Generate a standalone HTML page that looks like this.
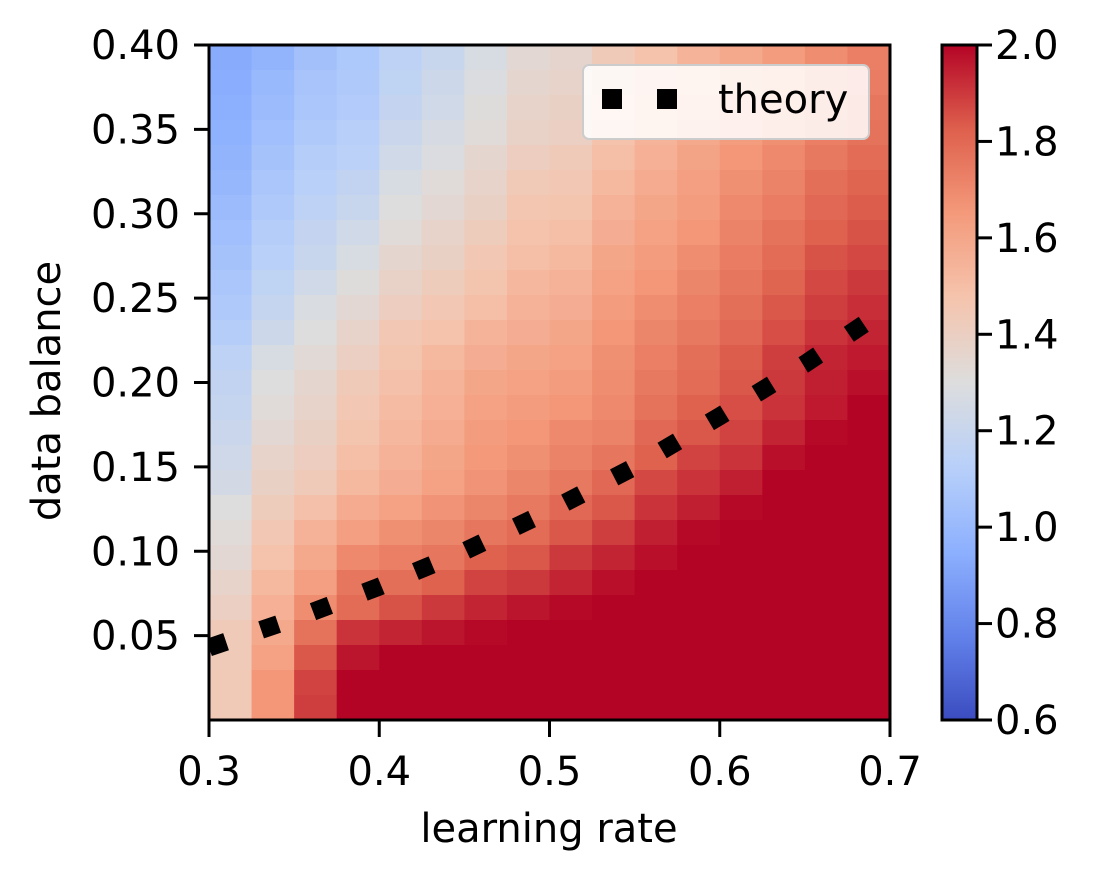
<!DOCTYPE html>
<html><head><meta charset="utf-8">
<style>
html,body{margin:0;padding:0;background:#fff;}
svg{display:block;font-family:"DejaVu Sans","Liberation Sans",sans-serif;}
</style></head>
<body>
<svg id="chart" width="1101" height="880" viewBox="0 0 1101 880" xmlns="http://www.w3.org/2000/svg">
<defs>
<linearGradient id="cw" x1="0" y1="1" x2="0" y2="0">
<stop offset="0" stop-color="rgb(59,76,192)"/>
<stop offset="0.125" stop-color="rgb(98,130,234)"/>
<stop offset="0.25" stop-color="rgb(141,176,254)"/>
<stop offset="0.375" stop-color="rgb(184,208,249)"/>
<stop offset="0.5" stop-color="rgb(221,221,221)"/>
<stop offset="0.625" stop-color="rgb(245,196,173)"/>
<stop offset="0.75" stop-color="rgb(244,154,123)"/>
<stop offset="0.875" stop-color="rgb(222,96,77)"/>
<stop offset="1" stop-color="rgb(180,4,38)"/>
</linearGradient>
<clipPath id="plotclip"><rect x="209" y="45" width="681" height="675"/></clipPath>
</defs>
<g id="cells"></g>
<g id="theory" clip-path="url(#plotclip)"></g>
<rect x="209" y="45" width="681" height="675" fill="none" stroke="#000" stroke-width="3"/>
<g id="xticks"></g>
<g id="yticks"></g>
<text x="549" y="842" font-size="40" text-anchor="middle">learning rate</text>
<text transform="translate(60,391) rotate(-90)" font-size="40" text-anchor="middle">data balance</text>
<g>
<rect x="583" y="65" width="286" height="74" rx="6" fill="#fff" fill-opacity="0.85" stroke="#ccc" stroke-width="2"/>
<rect x="602" y="89" width="20" height="20" fill="#000"/>
<rect x="657" y="89" width="20" height="20" fill="#000"/>
<text x="718" y="113" font-size="40">theory</text>
</g>
<rect x="942" y="45" width="35" height="675" fill="url(#cw)" stroke="#000" stroke-width="3"/>
<g id="cbticks"></g>
</svg>
<script>
const lrEdges = [0.3,0.325,0.35,0.375,0.4,0.425,0.45,0.475,0.5,0.525,0.55,0.575,0.6,0.625,0.65,0.675,0.7];
const balanceRows = 27;
const lossByColumn = [
[.93,.94,.95,.96,.97,.99,1.01,1.03,1.05,1.07,1.09,1.11,1.15,1.17,1.19,1.21,1.23,1.25,1.30,1.32,1.34,1.37,1.40,1.43,1.43,1.44,1.44],
[.97,1.00,1.01,1.03,1.05,1.07,1.09,1.11,1.13,1.16,1.19,1.22,1.27,1.30,1.32,1.34,1.37,1.39,1.42,1.45,1.48,1.52,1.56,1.59,1.62,1.66,1.66],
[1.04,1.06,1.07,1.09,1.11,1.13,1.15,1.18,1.20,1.24,1.28,1.30,1.33,1.35,1.37,1.39,1.41,1.43,1.49,1.55,1.59,1.63,1.69,1.77,1.84,1.88,1.89],
[1.08,1.09,1.10,1.12,1.14,1.17,1.20,1.24,1.27,1.31,1.34,1.37,1.40,1.43,1.45,1.47,1.50,1.52,1.58,1.63,1.70,1.76,1.79,1.91,1.97,2,2],
[1.15,1.16,1.18,1.21,1.24,1.27,1.30,1.32,1.35,1.38,1.41,1.45,1.47,1.49,1.51,1.53,1.55,1.57,1.62,1.68,1.73,1.78,1.85,1.94,2,2,2],
[1.20,1.22,1.24,1.26,1.29,1.32,1.34,1.37,1.39,1.42,1.45,1.48,1.52,1.54,1.56,1.58,1.60,1.62,1.67,1.71,1.76,1.82,1.90,1.97,2,2,2],
[1.27,1.29,1.31,1.32,1.35,1.37,1.39,1.42,1.45,1.47,1.50,1.54,1.57,1.60,1.62,1.64,1.65,1.67,1.71,1.76,1.82,1.88,1.94,1.99,2,2,2],
[1.34,1.35,1.37,1.38,1.41,1.44,1.46,1.48,1.50,1.53,1.55,1.57,1.60,1.62,1.64,1.66,1.68,1.71,1.75,1.79,1.84,1.90,1.97,2,2,2,2],
[1.36,1.37,1.39,1.40,1.43,1.45,1.47,1.50,1.52,1.55,1.57,1.60,1.62,1.64,1.66,1.70,1.72,1.75,1.80,1.84,1.90,1.94,1.99,2,2,2,2],
[1.43,1.44,1.46,1.48,1.50,1.52,1.55,1.57,1.60,1.62,1.64,1.66,1.68,1.69,1.70,1.72,1.76,1.80,1.84,1.89,1.94,1.98,2,2,2,2,2],
[1.48,1.50,1.52,1.54,1.56,1.58,1.60,1.62,1.64,1.66,1.69,1.71,1.73,1.75,1.77,1.80,1.82,1.87,1.91,1.95,1.98,2,2,2,2,2,2],
[1.54,1.55,1.57,1.59,1.61,1.63,1.64,1.66,1.69,1.71,1.73,1.75,1.78,1.79,1.82,1.84,1.88,1.91,1.95,1.99,2,2,2,2,2,2,2],
[1.59,1.60,1.62,1.64,1.66,1.68,1.70,1.72,1.74,1.76,1.78,1.80,1.83,1.84,1.86,1.88,1.91,1.95,1.99,2,2,2,2,2,2,2,2],
[1.64,1.65,1.67,1.68,1.70,1.72,1.74,1.77,1.79,1.81,1.84,1.86,1.89,1.90,1.91,1.94,1.98,2,2,2,2,2,2,2,2,2,2],
[1.69,1.70,1.71,1.73,1.75,1.78,1.80,1.82,1.85,1.87,1.89,1.91,1.94,1.95,1.96,1.99,2,2,2,2,2,2,2,2,2,2,2],
[1.73,1.74,1.76,1.77,1.79,1.81,1.83,1.85,1.87,1.90,1.92,1.94,1.96,1.98,2,2,2,2,2,2,2,2,2,2,2,2,2]
];
const theoryLr = [0.3,0.35,0.4,0.45,0.5,0.55,0.6,0.65,0.7];
const theoryBalance = [0.043,0.060,0.079,0.100,0.124,0.150,0.180,0.211,0.245];
const xTickValues = [0.3,0.4,0.5,0.6,0.7];
const xTickLabels = ["0.3","0.4","0.5","0.6","0.7"];
const yTickValues = [0.05,0.10,0.15,0.20,0.25,0.30,0.35,0.40];
const yTickLabels = ["0.05","0.10","0.15","0.20","0.25","0.30","0.35","0.40"];
const cbTickValues = [0.6,0.8,1.0,1.2,1.4,1.6,1.8,2.0];
const cbTickLabels = ["0.6","0.8","1.0","1.2","1.4","1.6","1.8","2.0"];

const NS = "http://www.w3.org/2000/svg";
const X0=209,X1=890,Y0=720,Y1=45;
const xScale = v => X0 + (v-0.3)/0.4*(X1-X0);
const yScale = v => Y0 - v/0.4*(Y0-Y1);
const cbScale = v => 720 - (v-0.6)/1.4*675;
const stops = [[59,76,192],[98,130,234],[141,176,254],[184,208,249],[221,221,221],[245,196,173],[244,154,123],[222,96,77],[180,4,38]];
function cmap(v){
  let p = Math.max(0,Math.min(1,(v-0.6)/1.4))*8;
  let i = Math.min(7,Math.floor(p)), f = p-i;
  const a=stops[i], b=stops[i+1];
  return "rgb("+a.map((c,k)=>Math.round(c+(b[k]-c)*f)).join(",")+")";
}
function mk(tag, attrs, parent){
  const e=document.createElementNS(NS,tag);
  for(const k in attrs) e.setAttribute(k,attrs[k]);
  parent.appendChild(e); return e;
}
const cells=document.getElementById("cells");
lossByColumn.forEach((col,c)=>{
  col.forEach((v,r)=>{
    const bTop = 0.4 - r*0.4/balanceRows, bBot = 0.4-(r+1)*0.4/balanceRows;
    const x=xScale(lrEdges[c]), x2=xScale(lrEdges[c+1]);
    const y=yScale(bTop), y2=yScale(bBot);
    const e=mk("rect",{x:x,y:y,width:x2-x+0.6,height:y2-y+0.6,fill:cmap(v)},cells);
    
    
  });
});
const th=document.getElementById("theory");
const pts=theoryLr.map((l,i)=>xScale(l)+","+yScale(theoryBalance[i])).join(" ");
const pl=mk("polyline",{points:pts,fill:"none",stroke:"#000","stroke-width":18,"stroke-dasharray":"18 37","stroke-dashoffset":"0"},th);


const xt=document.getElementById("xticks");
xTickValues.forEach((v,i)=>{
  const x=xScale(v);
  const l=mk("line",{x1:x,x2:x,y1:720,y2:737,stroke:"#000","stroke-width":3},xt);
  
  
  const t=mk("text",{x:x,y:785,"font-size":40,"text-anchor":"middle"},xt);
  
  
  t.textContent=xTickLabels[i];
});
const yt=document.getElementById("yticks");
yTickValues.forEach((v,i)=>{
  const y=yScale(v);
  const l=mk("line",{x1:194,x2:209,y1:y,y2:y,stroke:"#000","stroke-width":3},yt);
  
  
  const t=mk("text",{x:180,y:y+14,"font-size":40,"text-anchor":"end"},yt);
  
  
  t.textContent=yTickLabels[i];
});
const cb=document.getElementById("cbticks");
cbTickValues.forEach((v,i)=>{
  const y=cbScale(v);
  const l=mk("line",{x1:977,x2:992,y1:y,y2:y,stroke:"#000","stroke-width":3},cb);
  
  
  const t=mk("text",{x:995,y:y+14,"font-size":40},cb);
  
  
  t.textContent=cbTickLabels[i];
});
</script>
</body></html>
